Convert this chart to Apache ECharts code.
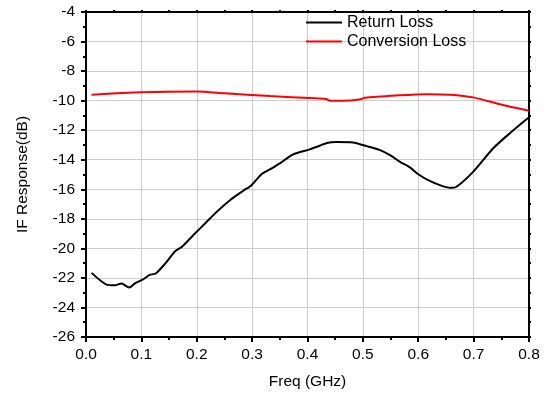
<!DOCTYPE html>
<html><head><meta charset="utf-8">
<script src="https://cdn.jsdelivr.net/npm/echarts@6/dist/echarts.min.js"></script>
<style>html,body{margin:0;padding:0;background:#fff}#c{width:549px;height:397px}</style>
</head><body><div id="c"></div>
<script>
var rlFreq = [0.01,0.037,0.052,0.064,0.078,0.088,0.103,0.115,0.126,0.143,0.161,0.173,0.194,0.218,0.236,0.26,0.284,0.299,0.317,0.332,0.35,0.374,0.404,0.422,0.437,0.452,0.482,0.507,0.531,0.549,0.567,0.585,0.6,0.618,0.639,0.657,0.669,0.699,0.735,0.765,0.8];
var rlVal  = [-21.66,-22.45,-22.5,-22.38,-22.65,-22.38,-22.1,-21.8,-21.7,-21.03,-20.19,-19.9,-19.1,-18.2,-17.53,-16.74,-16.1,-15.72,-14.98,-14.66,-14.25,-13.64,-13.3,-13.05,-12.85,-12.8,-12.83,-13.08,-13.35,-13.69,-14.14,-14.52,-14.98,-15.38,-15.72,-15.9,-15.83,-14.82,-13.24,-12.22,-11.13];
var clFreq = [0.01,0.1,0.2,0.25,0.332,0.392,0.434,0.44,0.464,0.494,0.504,0.561,0.615,0.657,0.699,0.753,0.8];
var clVal  = [-9.6,-9.44,-9.38,-9.5,-9.69,-9.8,-9.89,-10.0,-10.0,-9.92,-9.8,-9.65,-9.56,-9.6,-9.78,-10.3,-10.68];
var seriesNames = ['Return Loss','Conversion Loss'];
var xTitle = 'Freq (GHz)';
var yTitle = 'IF Response(dB)';

function pairs(xs, ys){ return xs.map(function(x,i){return [x, ys[i]];}); }
var FONT = 'Arial, "Liberation Sans", sans-serif';
var FS = 15.5;
var chart = echarts.init(document.getElementById('c'), null, {renderer:'canvas'});
var axisLine = {show:true, onZero:false, lineStyle:{color:'#000', width:2}};
chart.setOption({
  animation:false,
  backgroundColor:'#fff',
  grid:{left:86, right:20, top:12, bottom:60, containLabel:false},
  legend:{
    orient:'vertical', left:306, top:13, itemWidth:36, itemHeight:2, itemGap:0,
    icon:'rect', data:seriesNames,
    textStyle:{fontFamily:FONT, fontSize:16, color:'#000', lineHeight:19, padding:[0,0,0,0]},
    padding:0
  },
  xAxis:[{
    type:'value', min:0, max:0.8, interval:0.1, position:'bottom',
    name:xTitle, nameLocation:'middle', nameGap:37,
    nameTextStyle:{fontFamily:FONT, fontSize:FS, color:'#000'},
    axisLine:axisLine,
    axisTick:{show:true, inside:false, length:5, lineStyle:{color:'#000', width:2}},
    minorTick:{show:true, splitNumber:2, length:3, lineStyle:{color:'#000', width:2}},
    axisLabel:{fontFamily:FONT, fontSize:FS, color:'#000', margin:10, formatter:function(v){return v.toFixed(1);}},
    splitLine:{show:true, lineStyle:{color:'#cccccc', width:1}}
  },{
    type:'value', min:0, max:0.8, interval:0.1, position:'top',
    axisLine:axisLine,
    axisTick:{show:true, inside:false, length:2, lineStyle:{color:'#000', width:2}},
    minorTick:{show:true, splitNumber:2, length:2, lineStyle:{color:'#000', width:2}},
    axisLabel:{show:false}, splitLine:{show:false}
  }],
  yAxis:[{
    type:'value', min:-26, max:-4, interval:2, position:'left',
    name:yTitle, nameLocation:'middle', nameGap:55, nameRotate:90,
    nameTextStyle:{fontFamily:FONT, fontSize:FS, color:'#000'},
    axisLine:axisLine,
    axisTick:{show:true, inside:false, length:5, lineStyle:{color:'#000', width:2}},
    minorTick:{show:true, splitNumber:2, length:3, lineStyle:{color:'#000', width:2}},
    axisLabel:{fontFamily:FONT, fontSize:FS, color:'#000', margin:11},
    splitLine:{show:true, lineStyle:{color:'#cccccc', width:1}}
  },{
    type:'value', min:-26, max:-4, interval:2, position:'right',
    axisLine:axisLine,
    axisTick:{show:true, inside:false, length:2, lineStyle:{color:'#000', width:2}},
    minorTick:{show:true, splitNumber:2, length:2, lineStyle:{color:'#000', width:2}},
    axisLabel:{show:false}, splitLine:{show:false}
  }],
  series:[{
    name:seriesNames[0], type:'line', data:pairs(rlFreq, rlVal), showSymbol:false, symbol:'none',
    smooth:0.25, lineStyle:{color:'#000', width:2}, itemStyle:{color:'#000'}
  },{
    name:seriesNames[1], type:'line', data:pairs(clFreq, clVal), showSymbol:false, symbol:'none',
    smooth:0.25, lineStyle:{color:'#ff0000', width:2}, itemStyle:{color:'#ff0000'}
  }]
});
</script></body></html>
